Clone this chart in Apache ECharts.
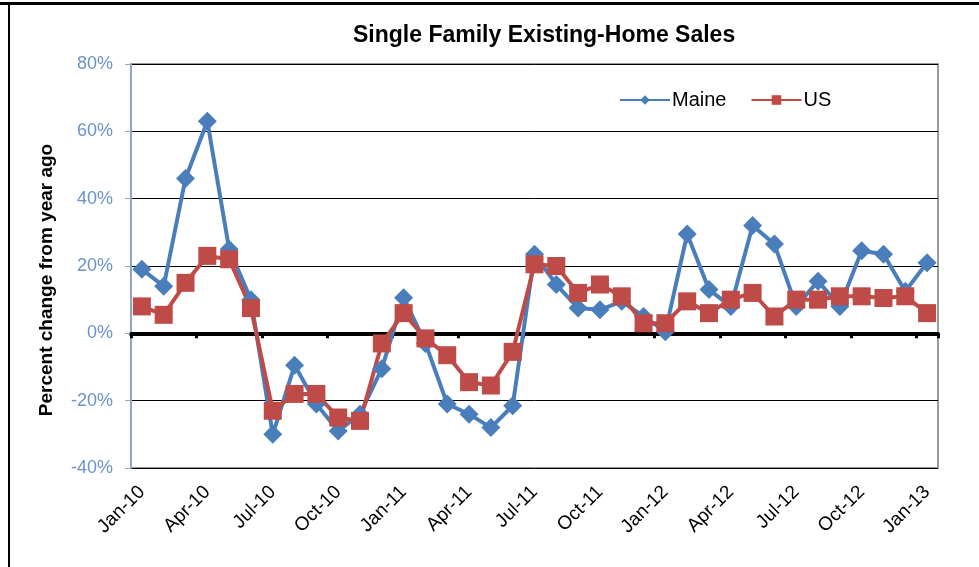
<!DOCTYPE html>
<html>
<head>
<meta charset="utf-8">
<script src="https://cdn.jsdelivr.net/npm/echarts@6/dist/echarts.min.js"></script>
<style>
  html, body { margin: 0; padding: 0; background: #fff; }
  #chart { width: 979px; height: 567px; }
</style>
</head>
<body>
<div id="chart"></div>
<script>
// monthly, Jan-10 .. Jan-13
let months = ["Jan-10","Feb-10","Mar-10","Apr-10","May-10","Jun-10","Jul-10","Aug-10","Sep-10","Oct-10","Nov-10","Dec-10",
  "Jan-11","Feb-11","Mar-11","Apr-11","May-11","Jun-11","Jul-11","Aug-11","Sep-11","Oct-11","Nov-11","Dec-11",
  "Jan-12","Feb-12","Mar-12","Apr-12","May-12","Jun-12","Jul-12","Aug-12","Sep-12","Oct-12","Nov-12","Dec-12",
  "Jan-13"];

let maine = [19, 14, 46, 63, 25, 10, -30, -9.5, -21, -29, -24, -10.5,
  10.6, -3, -21, -24, -28, -21.5, 23.5, 14.5, 7.5, 7, 9.5, 5,
  0.5, 29.5, 13, 8, 32, 26.5, 8, 15.5, 8, 24.5, 23.5, 12.5,
  21];

let us = [8, 5.5, 15, 23, 22, 7.5, -23, -18, -18, -25, -26, -3,
  6, -1.5, -6.5, -14.5, -15.5, -5.5, 20.5, 20, 12, 14.5, 11, 3,
  3, 9.5, 6, 10, 12, 5, 10, 10, 11, 11, 10.5, 11,
  6];

let yTicks = [-40, -20, 0, 20, 40, 60, 80];

let font = "Liberation Sans, Arial, sans-serif";

let option = {
  backgroundColor: "#fff",
  animation: false,
  title: {
    text: "Single Family Existing-Home Sales",
    left: 348,
    top: 19,
    textStyle: { fontFamily: font, fontSize: 23, fontWeight: "bold", color: "#000" }
  },
  legend: {
    data: ["Maine", "US"],
    left: 614,
    top: 85,
    itemWidth: 50,
    itemHeight: 12,
    itemGap: 24,
    textStyle: { fontFamily: font, fontSize: 20, color: "#000", padding: [0, 0, 0, -3] }
  },
  grid: {
    left: 131,
    right: 41,
    top: 64,
    bottom: 99,
    show: true,
    borderColor: "#9a9a9a",
    borderWidth: 2,
    backgroundColor: "#fff"
  },
  xAxis: [
    {
      type: "category",
      data: months,
      boundaryGap: true,
      axisLine: { onZero: false, show: false },
      axisTick: { show: false },
      axisLabel: {
        interval: 2,
        rotate: 45,
        margin: 21,
        fontFamily: font,
        fontSize: 19,
        color: "#000"
      },
      splitLine: { show: false }
    },
    {
      type: "category",
      data: months,
      boundaryGap: true,
      position: "bottom",
      axisLine: { onZero: true, lineStyle: { color: "#000", width: 4 } },
      axisTick: { show: true, interval: 2, length: 5, lineStyle: { color: "#000", width: 3 } },
      axisLabel: { show: false },
      splitLine: { show: false }
    }
  ],
  yAxis: {
    type: "value",
    min: yTicks[0],
    max: yTicks[yTicks.length - 1],
    interval: 20,
    name: "Percent change from year ago",
    nameLocation: "middle",
    nameGap: 75,
    nameTextStyle: {
      fontFamily: font, fontSize: 19, fontWeight: "bold", color: "#000",
      padding: [0, 28, 0, 0]
    },
    axisLine: { show: true, lineStyle: { color: "#8da6c6", width: 2 } },
    axisTick: { show: true, length: 6, lineStyle: { color: "#8da6c6", width: 1 } },
    axisLabel: {
      fontFamily: font,
      fontSize: 18,
      color: "#6a93c9",
      margin: 18,
      formatter: "{value}%"
    },
    splitLine: { show: true, lineStyle: { color: "#000", width: 1 } }
  },
  series: [
    {
      name: "Maine",
      type: "line",
      xAxisIndex: 1,
      data: maine,
      symbol: "diamond",
      symbolSize: 19,
      showAllSymbol: true,
      itemStyle: { color: "#4a7ebb" },
      lineStyle: { color: "#4a7ebb", width: 4 }
    },
    {
      name: "US",
      type: "line",
      xAxisIndex: 1,
      data: us,
      symbol: "rect",
      symbolSize: 18,
      showAllSymbol: true,
      itemStyle: { color: "#be4b48" },
      lineStyle: { color: "#be4b48", width: 4 }
    }
  ],
  graphic: [
    { type: "rect", shape: { x: 0, y: 2, width: 979, height: 3 }, style: { fill: "#000" } },
    { type: "rect", shape: { x: 8, y: 2, width: 2, height: 565 }, style: { fill: "#000" } }
  ]
};

let dom = echarts.init(document.getElementById("chart"));
dom.setOption(option);
</script>
</body>
</html>
